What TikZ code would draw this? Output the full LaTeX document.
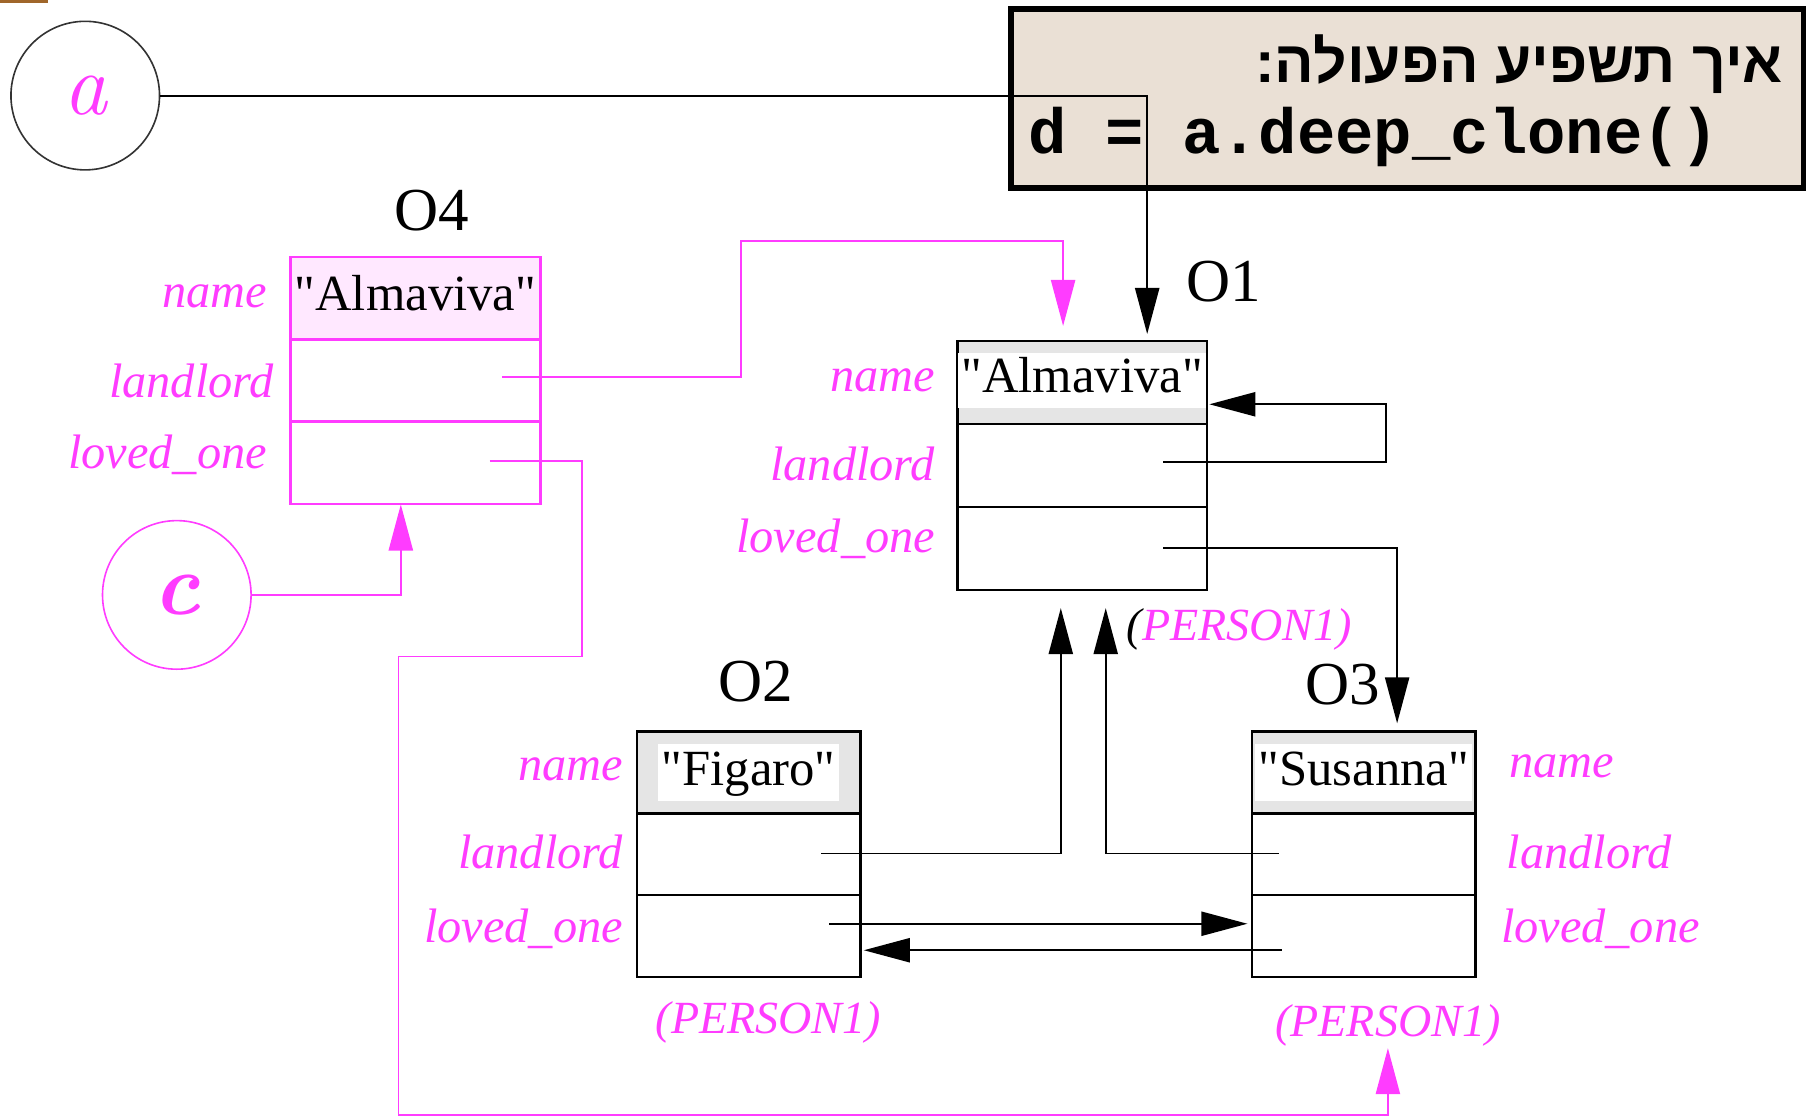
\documentclass[tikz,border=0pt]{standalone}
\usepackage{fontspec}
\usetikzlibrary{arrows.meta}
\TeXXeTstate=1
\newfontfamily\tms{Liberation Serif}
\newfontfamily\hebfont[Script=Hebrew]{Liberation Sans}
\newfontfamily\codefont{Liberation Mono}
\definecolor{mag}{RGB}{255,60,255}
\definecolor{beige}{RGB}{234,224,213}
\definecolor{pinkfill}{RGB}{255,232,255}
\definecolor{graycell}{RGB}{229,229,229}
\definecolor{barbrown}{RGB}{160,102,42}
\begin{document}
\begin{tikzpicture}[x=1pt,y=-1pt,
  cell/.style={draw, line width=2.2pt, inner sep=0pt, anchor=north west},
  wcell/.style={cell, minimum width=217pt},
  ncell/.style={cell, minimum width=194pt},
  nametxt/.style={font=\tms\fontsize{44}{50}\selectfont, text height=33pt, text depth=11pt, inner xsep=3pt, inner ysep=3pt},
  fieldlbl/.style={font=\tms\itshape\fontsize{42}{48}\selectfont, text=mag, inner sep=0pt},
  classlbl/.style={fieldlbl, font=\tms\itshape\fontsize{40}{48}\selectfont},
  objtitle/.style={font=\tms\fontsize{53}{60}\selectfont, inner sep=0pt},
  ptr/.style={line width=1.6pt, -{Triangle[length=40pt,width=21pt]}},
  mptr/.style={ptr, draw=mag},
  refcircle/.style={circle, line width=1.4pt, minimum size=129pt, inner sep=0pt}
]
\useasboundingbox (0,0) rectangle (1568,970);
\fill[barbrown] (0,0) rectangle (42,3);

% code box
\node[draw, line width=5pt, fill=beige, minimum width=688pt, minimum height=155pt, anchor=north west, inner sep=0pt] (code) at (875.5,5.5) {};
\node[anchor=base east, inner sep=0pt, font=\hebfont\bfseries\fontsize{51}{60}\selectfont] (heb) at (1548,72) {\beginR איך תשפיע הפעולה:\endR};
\node[anchor=base west, inner sep=0pt, font=\codefont\bfseries\fontsize{55.5}{60}\selectfont] (codeline) at (893,133) {d = a.deep\_clone()};

% reference circles
\node[refcircle, draw=black!80, text=mag, font=\itshape\fontsize{76}{76}\selectfont] (a) at (74,83) {a};
\node[refcircle, draw=mag, text=mag, font=\bfseries\itshape\fontsize{76}{76}\selectfont] (c) at (153.5,516.5) {c};

% O4
\node[objtitle, anchor=base] (t4) at (375,200) {O4};
\node[wcell, draw=mag, fill=pinkfill, minimum height=71.5pt] (o4n) at (251,222) {};
\node[wcell, draw=mag, minimum height=71.5pt] (o4l) at (251,293.5) {};
\node[wcell, draw=mag, minimum height=71.5pt] (o4o) at (251,365) {};
\node[nametxt] (o4nt) at (o4n.center) {"Almaviva"};
\node[fieldlbl, anchor=base east] (o4nl) at (232,267) {name};
\node[fieldlbl, anchor=base east] (o4ll) at (238,345) {landlord};
\node[fieldlbl, anchor=base east] (o4ol) at (232,407) {loved\_one};

% O1
\node[objtitle, anchor=base west] (t1) at (1030,262) {O1};
\node[wcell, fill=graycell, minimum height=72pt] (o1n) at (830,295) {};
\node[wcell, minimum height=72pt] (o1l) at (830,367) {};
\node[wcell, minimum height=72pt] (o1o) at (830,439) {};
\node[nametxt, fill=white, inner ysep=2pt] (o1nt) at ([yshift=2pt]o1n.center) {"Almaviva"};
\node[fieldlbl, anchor=base east] (o1nl) at (812,340) {name};
\node[fieldlbl, anchor=base east] (o1ll) at (812,417) {landlord};
\node[fieldlbl, anchor=base east] (o1ol) at (812,480) {loved\_one};
\node[classlbl, anchor=base west] (p1) at (978,556) {\textcolor{black}{(}PERSON1)};

% O2
\node[objtitle, anchor=base] (t2) at (656,609) {O2};
\node[ncell, fill=graycell, minimum height=71pt] (o2n) at (552,634) {};
\node[ncell, minimum height=71pt] (o2l) at (552,705) {};
\node[ncell, minimum height=71pt] (o2o) at (552,776) {};
\node[nametxt, fill=white] (o2nt) at (o2n.center) {"Figaro"};
\node[fieldlbl, anchor=base east] (o2nl) at (541,678) {name};
\node[fieldlbl, anchor=base east] (o2ll) at (541,754) {landlord};
\node[fieldlbl, anchor=base east] (o2ol) at (541,818) {loved\_one};
\node[classlbl, anchor=base] (p2) at (667,897) {(PERSON1)};

% O3
\node[objtitle, anchor=base west] (t3) at (1133,612) {O3};
\node[ncell, fill=graycell, minimum height=71pt] (o3n) at (1086,634) {};
\node[ncell, minimum height=71pt] (o3l) at (1086,705) {};
\node[ncell, minimum height=71pt] (o3o) at (1086,776) {};
\node[nametxt, fill=white] (o3nt) at (o3n.center) {"Susanna"};
\node[fieldlbl, anchor=base west] (o3nl) at (1310,675) {name};
\node[fieldlbl, anchor=base west] (o3ll) at (1308,754) {landlord};
\node[fieldlbl, anchor=base west] (o3ol) at (1303,818) {loved\_one};
\node[classlbl, anchor=base] (p3) at (1205,900) {(PERSON1)};

% pointer coordinates
\coordinate (o1in) at (996,290);
\coordinate (o1in2) at (923,283);
\coordinate (o4lp) at (436,327);
\coordinate (o4op) at (425,400);
\coordinate (p3in) at (1205,910);
\coordinate (o4in) at (348,438);
\coordinate (o1lp) at (1010,401);
\coordinate (o1nin) at (1050,351);
\coordinate (o1op) at (1010,476);
\coordinate (o3in) at (1213,628);
\coordinate (o2lp) at (713,741);
\coordinate (o1b1) at (921,528);
\coordinate (o3lp) at (1110,741);
\coordinate (o1b2) at (960,528);
\coordinate (o2op) at (720,802);
\coordinate (o3oin) at (1083,802);
\coordinate (o3op) at (1113,825);
\coordinate (o2oin) at (750,825);

% connectors
\draw[ptr] (a.east) -| (o1in);
\draw[mptr] (o4lp) -- (643,327) |- (923,209) -- (o1in2);
\draw[mptr] (o4op) -- (505,400) -- (505,570) -- (346,570) -- (346,968) -| (p3in);
\draw[mptr] (c.east) -| (o4in);
\draw[ptr] (o1lp) -- (1203,401) |- (o1nin);
\draw[ptr] (o1op) -| (o3in);
\draw[ptr] (o2lp) -| (o1b1);
\draw[ptr] (o3lp) -| (o1b2);
\draw[ptr] (o2op) -- (o3oin);
\draw[ptr] (o3op) -- (o2oin);
\end{tikzpicture}
\end{document}
